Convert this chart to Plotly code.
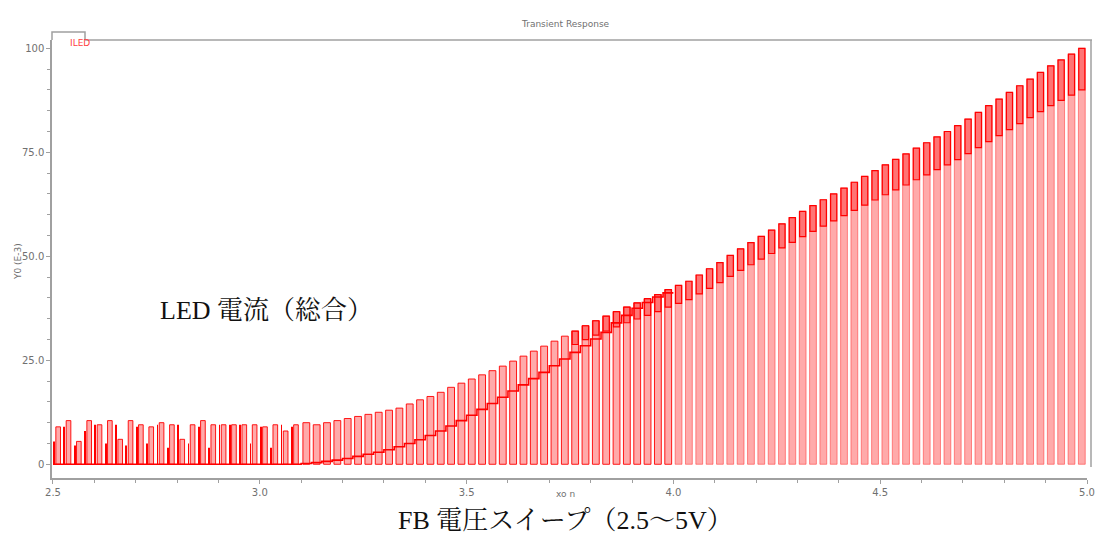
import plotly.graph_objects as go

# ---------------- data ----------------
T0 = 2.5
PERIOD = 0.025
# peak current of each pulse (E-3 A), pulse i centred at T0 + PERIOD*(i+0.5)
peaks = [
    9.0, 10.5, 5.5, 10.5, 9.5, 10.5, 6.0, 10.5, 9.5, 9.0,
    10.0, 9.5, 6.0, 9.5, 10.5, 9.5, 9.5, 9.5, 9.5, 9.5,
    9.0, 9.5, 8.0, 9.5, 10.0, 9.5, 10.0, 10.5, 11.0, 11.5,
    12.0, 12.5, 13.0, 13.5, 14.5, 15.5, 16.3, 17.3, 18.5, 19.5,
    20.5, 21.5, 22.5, 23.6, 24.8, 26.0, 27.2, 28.4, 29.6, 30.8,
    32.0, 33.3, 34.5, 35.6, 36.7, 37.8, 38.8, 39.8, 40.8, 42.0,
    43.0, 44.0, 45.5, 47.0, 48.5, 50.2, 51.8, 53.3, 54.8, 56.3,
    57.8, 59.3, 60.8, 62.2, 63.6, 65.0, 66.4, 67.8, 69.2, 70.6,
    72.0, 73.3, 74.6, 76.0, 77.3, 78.7, 80.0, 81.4, 83.0, 84.6,
    86.2, 87.8, 89.4, 91.0, 92.6, 94.2, 95.8, 97.2, 98.6, 100.0,
]
# secondary narrow spikes seen in the early (2.5-3.1) part
spikes = [
    5.5, 9.0, 4.5, 8.0, 9.5, 5.0, 9.5, 4.5, 9.0, 5.0,
    9.5, 4.0, 9.5, 5.0, 9.0, 4.0, 9.5, 9.5, 9.5, 5.0,
    9.0, 4.0, 9.5, 9.0,
]
# level of the dark staircase between pulses (pulses 0..59)
baseline = [
    0, 0, 0, 0, 0, 0, 0, 0, 0, 0,
    0, 0, 0, 0, 0, 0, 0, 0, 0, 0,
    0, 0, 0, 0, 0.2, 0.4, 0.7, 1.0, 1.4, 1.9,
    2.4, 2.9, 3.5, 4.2, 5.0, 5.9, 6.9, 8.0, 9.2, 10.5,
    11.8, 13.2, 14.6, 16.1, 17.6, 19.1, 20.6, 22.1, 23.7, 25.3,
    26.9, 28.5, 30.1, 31.7, 34.0, 35.8, 37.5, 38.9, 40.2, 41.2,
]
x_ticks = [2.5, 3.0, 3.5, 4.0, 4.5, 5.0]
x_tick_text = ["2.5", "3.0", "3.5", "4.0", "4.5", "5.0"]
y_ticks = [0, 25, 50, 75, 100]
y_tick_text = ["0", "25.0", "50.0", "75.0", "100"]

# ---------------- build ----------------
n = len(peaks)
centers = [T0 + PERIOD * (i + 0.5) for i in range(n)]
widths = [PERIOD * (0.45 if i < 24 else 0.66) for i in range(n)]
edge_cols = ["rgba(255,0,0,0.9)" if i < 60 else "rgba(255,40,40,0.5)" for i in range(n)]

fig = go.Figure()

# pink pulse bodies
fig.add_trace(go.Bar(
    x=centers, y=peaks, base=0, width=widths,
    marker=dict(color="#ffaaaa", line=dict(color=edge_cols, width=1)),
    showlegend=False, hoverinfo="skip",
))

# dark top band of the later pulses
band_idx = [i for i in range(n) if i >= 50]
fig.add_trace(go.Bar(
    x=[centers[i] for i in band_idx],
    y=[peaks[i] * 0.1 for i in band_idx],
    base=[peaks[i] * 0.9 for i in band_idx],
    width=[widths[i] * 0.9 for i in band_idx],
    marker=dict(color="rgba(255,50,50,0.45)", line=dict(color="#ff0000", width=1.2)),
    showlegend=False, hoverinfo="skip",
))

# narrow dark spikes in the early part
fig.add_trace(go.Bar(
    x=[T0 + PERIOD * i + PERIOD * 0.1 for i in range(len(spikes))],
    y=spikes, base=0, width=[PERIOD * 0.08] * len(spikes),
    marker=dict(color="#ff0000", line=dict(width=0)),
    showlegend=False, hoverinfo="skip",
))

# dark staircase line
bx = [T0 + PERIOD * i for i in range(len(baseline))] + [T0 + PERIOD * len(baseline)]
by = baseline + [baseline[-1]]
fig.add_trace(go.Scatter(
    x=bx, y=by, mode="lines", line=dict(color="#ff0000", width=1.6, shape="hv"),
    showlegend=False, hoverinfo="skip",
))

W, H = 1096, 552
L, R, T, B = 52, 9, 40, 74
pw, ph = W - L - R, H - T - B


def px(xp):
    return (xp - L) / pw


def py(yp):
    return (H - B - yp) / ph


axis_col = "#a0a0a0"
tick_font = dict(family="DejaVu Sans, Liberation Sans", size=10, color="#707070")
big_font = dict(family="Liberation Serif, Noto Serif CJK JP, Noto Sans CJK JP, serif", size=26, color="#111111")

fig.update_layout(
    width=W, height=H,
    margin=dict(l=L, r=R, t=T, b=B, autoexpand=False),
    paper_bgcolor="white", plot_bgcolor="white",
    barmode="overlay",
    xaxis=dict(
        range=[2.4976, 5.0], tickvals=x_ticks, ticktext=x_tick_text, automargin=False,
        ticklabeloverflow="allow",
        showgrid=False, zeroline=False, showline=True, linecolor=axis_col, linewidth=1.5,
        ticks="outside", ticklen=4, tickcolor=axis_col, tickfont=tick_font,
        minor=dict(dtick=0.1, tick0=2.5, ticks="outside", ticklen=3, tickcolor=axis_col, showgrid=False),
    ),
    yaxis=dict(
        range=[-3.3, 102.0], tickvals=y_ticks, ticktext=y_tick_text, automargin=False,
        showgrid=False, zeroline=False, showline=True, linecolor=axis_col, linewidth=1.5,
        ticks="outside", ticklen=4, tickcolor=axis_col, tickfont=tick_font,
        minor=dict(dtick=5, tick0=0, ticks="outside", ticklen=3, tickcolor=axis_col, showgrid=False),
    ),
    shapes=[
        # legend tab
        dict(type="path", xref="paper", yref="paper",
             path=f"M {px(52)} {py(40)} L {px(52)} {py(32)} L {px(85)} {py(32)} L {px(85)} {py(40)}",
             line=dict(color=axis_col, width=1.5)),
        # top frame
        dict(type="line", xref="paper", yref="paper", x0=px(85), x1=px(1092), y0=py(40), y1=py(40),
             line=dict(color=axis_col, width=1.5)),
        # right frame
        dict(type="line", xref="paper", yref="paper", x0=px(1091), x1=px(1091), y0=py(40), y1=py(467),
             line=dict(color=axis_col, width=1.5)),
    ],
    annotations=[
        dict(text="Transient Response", xref="paper", yref="paper", x=px(565), y=py(17),
             showarrow=False, font=dict(family="DejaVu Sans", size=9, color="#707070")),
        dict(text="ILED", xref="paper", yref="paper", x=px(68), y=py(36),
             showarrow=False, font=dict(family="DejaVu Sans", size=9, color="#ff4040")),
        dict(text="Y0 (E-3)", xref="paper", yref="paper", x=px(11), y=py(262), textangle=-90,
             showarrow=False, font=dict(family="DejaVu Sans", size=9, color="#707070")),
        dict(text="xo n", xref="paper", yref="paper", x=px(565), y=py(501),
             showarrow=False, font=dict(family="DejaVu Sans", size=9, color="#707070")),
        dict(text="LED 電流（総合）", xref="paper", yref="paper", x=px(158), y=py(310), xanchor="left",
             showarrow=False, font=big_font),
        dict(text="FB 電圧スイープ（2.5～5V）", xref="paper", yref="paper", x=px(565), y=py(537),
             showarrow=False, font=big_font),
    ],
)

# remove the browser's default body margin so the figure sits at the page origin
fig.write_html("out.html", config={"displayModeBar": False},
               post_script="document.body.style.margin='0px';")
